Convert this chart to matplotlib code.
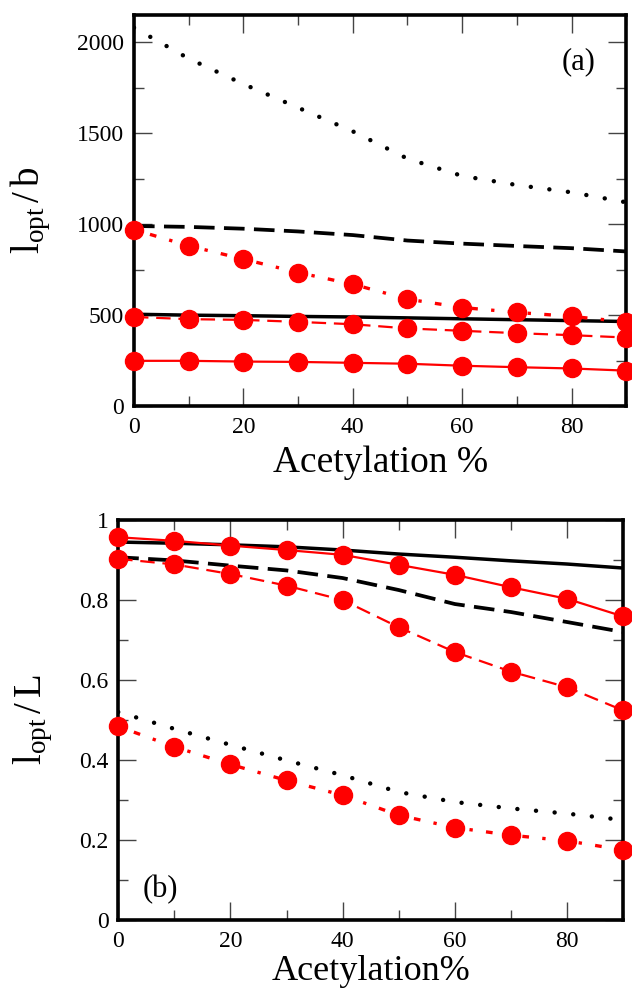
import matplotlib
matplotlib.use("Agg")
import matplotlib.pyplot as plt
from matplotlib.ticker import MultipleLocator

plt.rcParams['font.family'] = ['Liberation Serif', 'DejaVu Serif']
plt.rcParams['mathtext.fontset'] = 'custom'
plt.rcParams['mathtext.rm'] = 'Liberation Serif'
plt.rcParams['mathtext.it'] = 'Liberation Serif:italic'

acetylation = [0, 10, 20, 30, 40, 50, 60, 70, 80, 90]

# Panel (a): l_opt / b
a_black_dotted = [2080, 1910, 1770, 1640, 1510, 1360, 1265, 1215, 1175, 1120]
a_black_dashed = [990, 985, 975, 960, 940, 910, 893, 880, 868, 850]
a_black_solid = [505, 500, 497, 493, 490, 485, 480, 475, 470, 465]
a_red_dotted = [970, 881, 808, 734, 670, 588, 542, 515, 493, 463]
a_red_dashed = [490, 478, 474, 463, 450, 427, 414, 401, 390, 377]
a_red_solid = [249, 249, 245, 243, 238, 233, 222, 214, 207, 195]

# Panel (b): l_opt / L
b_black_solid = [0.945, 0.942, 0.938, 0.933, 0.925, 0.915, 0.907, 0.898, 0.890, 0.880]
b_black_dashed = [0.907, 0.899, 0.886, 0.874, 0.855, 0.825, 0.790, 0.770, 0.745, 0.720]
b_black_dotted = [0.520, 0.478, 0.438, 0.399, 0.362, 0.320, 0.295, 0.279, 0.266, 0.250]
b_red_solid = [0.957, 0.948, 0.936, 0.925, 0.913, 0.888, 0.863, 0.832, 0.803, 0.759]
b_red_dashed = [0.903, 0.889, 0.865, 0.836, 0.800, 0.732, 0.670, 0.621, 0.582, 0.524]
b_red_dotted = [0.484, 0.433, 0.389, 0.349, 0.312, 0.262, 0.231, 0.212, 0.198, 0.175]

RED = '#ff0000'
MS = 13

fig = plt.figure(figsize=(6.32, 9.93), dpi=100)
ax1 = fig.add_axes([0.212, 0.591, 0.779, 0.394])
ax2 = fig.add_axes([0.187, 0.0735, 0.799, 0.4028])

black_dot = dict(color='black', lw=3.2, linestyle=(0, (0.01, 4.2)), dash_capstyle='round')
black_dash = dict(color='black', lw=2.7, linestyle=(0, (5.5, 2.5)))
black_solid = dict(color='black', lw=2.5, linestyle='-')
red_dot = dict(color=RED, lw=2.4, linestyle=(0, (1.0, 4.0, 2.0, 4.0)), marker='o', ms=MS,
               clip_on=False, zorder=4)
red_dash = dict(color=RED, lw=1.6, linestyle=(0, (6.5, 3.5)), marker='o', ms=MS,
                clip_on=False, zorder=4)
red_solid = dict(color=RED, lw=1.6, linestyle='-', marker='o', ms=MS, clip_on=False, zorder=4)

ax1.plot(acetylation, a_black_dotted, **black_dot)
ax1.plot(acetylation, a_black_dashed, **black_dash)
ax1.plot(acetylation, a_black_solid, **black_solid)
ax1.plot(acetylation, a_red_dotted, **red_dot)
ax1.plot(acetylation, a_red_dashed, **red_dash)
ax1.plot(acetylation, a_red_solid, **red_solid)

ax2.plot(acetylation, b_black_solid, **black_solid)
ax2.plot(acetylation, b_black_dashed, **black_dash)
ax2.plot(acetylation, b_black_dotted, **black_dot)
ax2.plot(acetylation, b_red_solid, **red_solid)
ax2.plot(acetylation, b_red_dashed, **red_dash)
ax2.plot(acetylation, b_red_dotted, **red_dot)

ax1.set_xlim(0, 90)
ax1.set_ylim(0, 2150)
ax1.xaxis.set_major_locator(MultipleLocator(20))
ax1.xaxis.set_minor_locator(MultipleLocator(10))
ax1.yaxis.set_major_locator(MultipleLocator(500))
ax1.yaxis.set_minor_locator(MultipleLocator(250))

ax2.set_xlim(0, 90)
ax2.set_ylim(0, 1)
ax2.xaxis.set_major_locator(MultipleLocator(20))
ax2.xaxis.set_minor_locator(MultipleLocator(10))
ax2.yaxis.set_minor_locator(MultipleLocator(0.1))
ax2.set_yticks([0, 0.2, 0.4, 0.6, 0.8, 1.0])
ax2.set_yticklabels(['0', '0.2', '0.4', '0.6', '0.8', '1'])

for ax in (ax1, ax2):
    for sp in ax.spines.values():
        sp.set_linewidth(2.6)
    ax.tick_params(which='both', direction='in', top=True, right=True,
                   labelsize=17, width=1.0, color='#444444')
    ax.tick_params(which='major', length=13)
    ax.tick_params(axis='x', which='major', pad=8)
    ax.tick_params(axis='y', which='major', pad=7)
    ax.tick_params(which='minor', length=7)

ax1.set_xlabel('Acetylation %', fontsize=27, labelpad=5)
ax1.set_ylabel(r'$\mathrm{l_{opt}\,/\,b}$', fontsize=28)
ax1.yaxis.set_label_coords(-0.165, 0.5)
ax2.set_xlabel('Acetylation%', fontsize=26, labelpad=2)
ax2.set_ylabel(r'$\mathrm{l_{opt}\,/\,L}$', fontsize=28)
ax2.yaxis.set_label_coords(-0.125, 0.5)

ax1.text(81.2, 1895, '(a)', fontsize=22, ha='center', va='center')
ax2.text(7.6, 0.075, '(b)', fontsize=22, ha='center', va='center')

fig.savefig('out.png', dpi=100)
